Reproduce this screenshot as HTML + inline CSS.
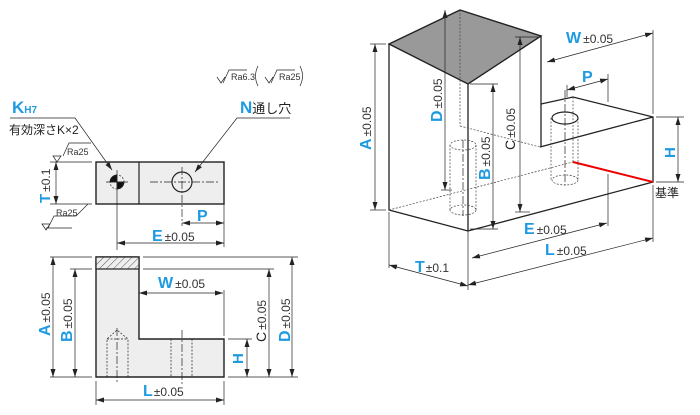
<!DOCTYPE html>
<html><head><meta charset="utf-8"><style>
body{margin:0;background:#fff;}
svg{display:block;}
text{font-family:"Liberation Sans","Noto Sans CJK JP",sans-serif;}
.b{fill:#1e9be0;font-weight:bold;}
.s{fill:#333;font-size:12px;}
</style></head><body>
<svg width="700" height="415" viewBox="0 0 700 415" xmlns="http://www.w3.org/2000/svg">
<defs>
<marker id="a" markerWidth="8" markerHeight="6" refX="8" refY="3" orient="auto-start-reverse" markerUnits="userSpaceOnUse"><path d="M0,0.5 L8,3 L0,5.5z" fill="#222"/></marker>
<pattern id="h" width="5" height="5" patternUnits="userSpaceOnUse" patternTransform="rotate(45)"><rect width="5" height="5" fill="#eee"/><line x1="0" y1="0" x2="0" y2="5" stroke="#333" stroke-width="0.8"/></pattern>
</defs>
<g stroke="#222" fill="none" stroke-width="0.7">
<rect x="96" y="162" width="128" height="42" fill="#eee" stroke-width="1.4"/>
<line x1="139" y1="162" x2="139" y2="204" stroke-width="1.2"/>
<circle cx="117" cy="182" r="7" stroke-dasharray="2,1.5"/>
<path d="M117,182 L110,182 A7,7 0 0 1 117,175 Z M117,182 L124,182 A7,7 0 0 1 117,189 Z" fill="#111"/>
<line x1="106" y1="182" x2="128" y2="182"/><line x1="117" y1="170" x2="117" y2="250"/>
<circle cx="182" cy="182" r="10" stroke-width="1.2"/>
<line x1="150" y1="182" x2="220" y2="182" stroke-dasharray="8,2,2,2"/>
<line x1="182" y1="167" x2="182" y2="226" stroke-dasharray="8,2,2,2"/>
<line x1="224" y1="204" x2="224" y2="247"/>
<line x1="182" y1="223" x2="224" y2="223" marker-start="url(#a)" marker-end="url(#a)"/>
<line x1="117" y1="243" x2="224" y2="243" marker-start="url(#a)" marker-end="url(#a)"/>
<line x1="50" y1="162" x2="92" y2="162"/><line x1="50" y1="204" x2="92" y2="204"/>
<line x1="56" y1="162" x2="56" y2="204" marker-start="url(#a)" marker-end="url(#a)"/>
<path d="M57,162 l-4,-6 l8,0z M63,156 l6,-13 l22,0"/>
<path d="M42,224 l4,6 l4,-6z M48,228 l6,-12 l22,0 M72,228 l-26,0 M76,216 l12,-12" />
<path d="M10,118 L75,118 L112,170" marker-end="url(#a)"/>
<path d="M290,118 L237,118 L195,172" marker-end="url(#a)"/>
<path d="M217,77 l4,6 l4,-6 M223,83 l6,-13 l18,0 M265,77 l4,6 l4,-6 M271,83 l6,-13 l18,0"/>
<path d="M258,66 q-5,10 0,20 M300,66 q5,10 0,20"/>
<path d="M96,257 L139,257 L139,339 L224,339 L224,377 L96,377 Z" fill="#eee" stroke-width="1.4"/>
<rect x="96" y="257" width="43" height="12" fill="url(#h)" stroke-width="1.2"/>
<g stroke-dasharray="2,1.5"><path d="M107,377 L107,339 L117,330 L128,339 L128,377 M107,339 L128,339"/><line x1="171" y1="339" x2="171" y2="377"/><line x1="192" y1="339" x2="192" y2="377"/></g>
<line x1="117" y1="328" x2="117" y2="384" stroke-dasharray="8,2,2,2"/>
<line x1="182" y1="330" x2="182" y2="384" stroke-dasharray="8,2,2,2"/>
<line x1="50" y1="257" x2="92" y2="257"/><line x1="50" y1="377" x2="92" y2="377"/>
<line x1="70" y1="269" x2="92" y2="269"/>
<line x1="53" y1="257" x2="53" y2="377" marker-start="url(#a)" marker-end="url(#a)"/>
<line x1="75" y1="269" x2="75" y2="377" marker-start="url(#a)" marker-end="url(#a)"/>
<line x1="143" y1="257" x2="298" y2="257"/><line x1="143" y1="269" x2="274" y2="269"/>
<line x1="228" y1="377" x2="298" y2="377"/><line x1="228" y1="339" x2="252" y2="339"/>
<line x1="224" y1="290" x2="224" y2="336"/>
<line x1="139" y1="293" x2="223" y2="293" marker-start="url(#a)" marker-end="url(#a)"/>
<line x1="269" y1="269" x2="269" y2="377" marker-start="url(#a)" marker-end="url(#a)"/>
<line x1="292" y1="257" x2="292" y2="377" marker-start="url(#a)" marker-end="url(#a)"/>
<line x1="247" y1="339" x2="247" y2="377" marker-start="url(#a)" marker-end="url(#a)"/>
<line x1="96" y1="381" x2="96" y2="405"/><line x1="224" y1="381" x2="224" y2="405"/>
<line x1="96" y1="400" x2="224" y2="400" marker-start="url(#a)" marker-end="url(#a)"/>
<polygon points="389,44 460,10 541,36 468,84" fill="#999" stroke-width="1.4"/>
<g stroke-width="1.3">
<polyline points="389,44 389,210 468,231 653,182 653,117 573,97 541,104"/>
<line x1="468" y1="84" x2="468" y2="231"/>
<line x1="541" y1="36" x2="541" y2="147"/>
<line x1="540" y1="147" x2="653" y2="117"/>
</g>
<line x1="573" y1="162" x2="653" y2="182" stroke="#e00" stroke-width="2"/>
<g stroke-dasharray="2,1.5" stroke="#444">
<line x1="460" y1="10" x2="460" y2="126"/><line x1="460" y1="126" x2="540" y2="147"/>
<line x1="389" y1="210" x2="573" y2="162"/><line x1="573" y1="97" x2="573" y2="162"/>
<line x1="551" y1="118" x2="551" y2="180"/><line x1="578" y1="118" x2="578" y2="180"/>
<ellipse cx="565" cy="180" rx="13" ry="5"/>
<line x1="450" y1="145" x2="450" y2="210"/><line x1="476" y1="145" x2="476" y2="210"/>
<ellipse cx="463" cy="145" rx="13" ry="5"/><ellipse cx="463" cy="210" rx="13" ry="5"/>
</g>
<ellipse cx="565" cy="118" rx="13" ry="6" stroke-width="1.2"/>
<line x1="565" y1="90" x2="565" y2="185" stroke-dasharray="8,2,2,2"/>
<line x1="463" y1="140" x2="463" y2="216" stroke-dasharray="8,2,2,2"/>
<line x1="370" y1="44" x2="386" y2="44"/><line x1="370" y1="210" x2="386" y2="210"/>
<line x1="375" y1="44" x2="375" y2="210" marker-start="url(#a)" marker-end="url(#a)"/>
<line x1="445" y1="10" x2="445" y2="190" marker-start="url(#a)" marker-end="url(#a)"/>
<line x1="441" y1="190" x2="452" y2="190"/>
<line x1="470" y1="84" x2="498" y2="84"/><line x1="470" y1="229" x2="498" y2="229"/>
<line x1="493" y1="84" x2="493" y2="229" marker-start="url(#a)" marker-end="url(#a)"/>
<line x1="515" y1="37" x2="538" y2="37"/><line x1="515" y1="212" x2="530" y2="212"/>
<line x1="520" y1="37" x2="520" y2="212" marker-start="url(#a)" marker-end="url(#a)"/>
<line x1="653" y1="30" x2="653" y2="114"/><line x1="547" y1="62" x2="653" y2="33" marker-start="url(#a)" marker-end="url(#a)"/>
<line x1="567" y1="85" x2="567" y2="97"/><line x1="608" y1="74" x2="608" y2="102"/>
<line x1="567" y1="90" x2="608" y2="79" marker-start="url(#a)" marker-end="url(#a)"/>
<line x1="656" y1="117" x2="684" y2="117"/><line x1="656" y1="182" x2="684" y2="182"/>
<line x1="678" y1="117" x2="678" y2="182" marker-start="url(#a)" marker-end="url(#a)"/>
<line x1="608" y1="174" x2="608" y2="226"/>
<line x1="468" y1="231" x2="468" y2="290"/><line x1="389" y1="212" x2="389" y2="268"/>
<line x1="653" y1="185" x2="653" y2="242"/>
<line x1="472" y1="258" x2="607" y2="223" marker-start="url(#a)" marker-end="url(#a)"/>
<line x1="468" y1="285" x2="653" y2="238" marker-start="url(#a)" marker-end="url(#a)"/>
<line x1="389" y1="265" x2="468" y2="286" marker-start="url(#a)" marker-end="url(#a)"/>
</g>
<text x="12" y="113" class="b" font-size="17">K<tspan font-size="10" fill="#1e9be0">H7</tspan></text>
<text x="9" y="134" font-size="12" fill="#222">有効深さK×2</text>
<text x="240" y="113" class="b" font-size="17">N<tspan font-size="13" fill="#222" font-weight="normal">通し穴</tspan></text>
<text x="231" y="80" style="font-size:9px;fill:#333">Ra6.3</text><text x="279" y="80" style="font-size:9px;fill:#333">Ra25</text>
<text x="67" y="155" style="font-size:9px;fill:#333">Ra25</text><text x="56" y="216" style="font-size:9px;fill:#333">Ra25</text>
<text transform="translate(50,203) rotate(-90)"><tspan class="b" font-size="15">T</tspan><tspan class="s" dx="2">±0.1</tspan></text>
<text x="197" y="221" class="b" font-size="16">P</text>
<text x="152" y="241"><tspan class="b" font-size="16">E</tspan><tspan class="s" dx="2">±0.05</tspan></text>
<text x="158" y="288"><tspan class="b" font-size="16">W</tspan><tspan class="s" dx="2">±0.05</tspan></text>
<text x="143" y="396"><tspan class="b" font-size="16">L</tspan><tspan class="s" dx="1">±0.05</tspan></text>
<text transform="translate(50,336) rotate(-90)"><tspan class="b" font-size="16">A</tspan><tspan class="s" dx="2">±0.05</tspan></text>
<text transform="translate(72,342) rotate(-90)"><tspan class="b" font-size="16">B</tspan><tspan class="s" dx="2">±0.05</tspan></text>
<text transform="translate(266,342) rotate(-90)"><tspan font-size="14" fill="#222">C</tspan><tspan class="s" dx="2">±0.05</tspan></text>
<text transform="translate(290,342) rotate(-90)"><tspan class="b" font-size="16">D</tspan><tspan class="s" dx="2">±0.05</tspan></text>
<text transform="translate(243,364) rotate(-90)" class="b" font-size="15">H</text>
<text transform="translate(371,150) rotate(-90)"><tspan class="b" font-size="16">A</tspan><tspan class="s" dx="2">±0.05</tspan></text>
<text transform="translate(442,122) rotate(-90)"><tspan class="b" font-size="16">D</tspan><tspan class="s" dx="2">±0.05</tspan></text>
<text transform="translate(490,180) rotate(-90)"><tspan class="b" font-size="16">B</tspan><tspan class="s" dx="2">±0.05</tspan></text>
<text transform="translate(515,150) rotate(-90)"><tspan font-size="14" fill="#222">C</tspan><tspan class="s" dx="2">±0.05</tspan></text>
<text x="566" y="43"><tspan class="b" font-size="16">W</tspan><tspan class="s" dx="2">±0.05</tspan></text>
<text x="582" y="82" class="b" font-size="16">P</text>
<text transform="translate(675,158) rotate(-90)" class="b" font-size="15">H</text>
<text x="655" y="197" font-size="12" fill="#222">基準</text>
<text x="524" y="234"><tspan class="b" font-size="16">E</tspan><tspan class="s" dx="2">±0.05</tspan></text>
<text x="545" y="255"><tspan class="b" font-size="16">L</tspan><tspan class="s" dx="2">±0.05</tspan></text>
<text x="415" y="272"><tspan class="b" font-size="16">T</tspan><tspan class="s" dx="1">±0.1</tspan></text>
</svg>
</body></html>
